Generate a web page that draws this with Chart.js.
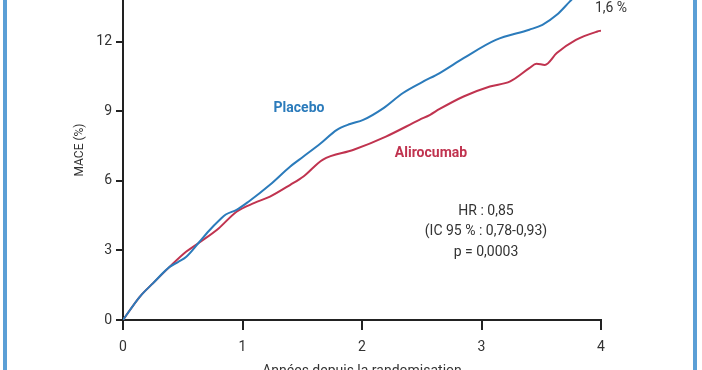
<!DOCTYPE html>
<html>
<head>
<meta charset="utf-8">
<script src="https://cdn.jsdelivr.net/npm/chart.js@4.4.1/dist/chart.umd.min.js"></script>
<style>
  html, body { margin: 0; padding: 0; background: #fff; }
  #wrap { position: relative; width: 702px; height: 370px; overflow: hidden; }
  .edge { position: absolute; top: 0; bottom: 0; width: 4px; background: #5b9fd6; }
</style>
</head>
<body>
<div id="wrap">
  <canvas id="chart" width="702" height="370"></canvas>
  <div class="edge" style="left:3px"></div>
  <div class="edge" style="left:693px"></div>
</div>
<script>
// years since randomisation / cumulative MACE (%)
const placeboYears = [0, 0.14, 0.25, 0.39, 0.46, 0.53, 0.63, 0.72, 0.81, 0.86, 0.95, 1.05, 1.23, 1.40, 1.51, 1.65, 1.79, 1.90, 2.01, 2.18, 2.34, 2.50, 2.65, 2.85, 3.12, 3.40, 3.51, 3.63, 3.74, 3.85, 4.0]
const placeboMace  = [0, 1.0, 1.58, 2.29, 2.5, 2.73, 3.31, 3.85, 4.32, 4.55, 4.75, 5.1, 5.83, 6.62, 7.05, 7.6, 8.2, 8.45, 8.63, 9.14, 9.78, 10.25, 10.65, 11.29, 12.08, 12.52, 12.73, 13.16, 13.74, 14.3, 14.6]

const aliroYears = [0, 0.14, 0.25, 0.39, 0.53, 0.63, 0.80, 0.95, 1.10, 1.23, 1.40, 1.51, 1.67, 1.93, 2.20, 2.48, 2.57, 2.65, 2.85, 3.07, 3.24, 3.40, 3.46, 3.53, 3.63, 3.79, 3.97, 4.0]
const aliroMace  = [0, 1.0, 1.58, 2.29, 2.95, 3.31, 3.95, 4.67, 5.05, 5.32, 5.83, 6.19, 6.91, 7.34, 7.91, 8.63, 8.85, 9.1, 9.64, 10.07, 10.29, 10.86, 11.05, 11.0, 11.51, 12.08, 12.44, 12.48]

const yearTicks = [0, 1, 2, 3, 4]
const maceTicks = [0, 3, 6, 9, 12]

const seriesNames = ['Placebo', 'Alirocumab']
const statsText = ['HR : 0,85', '(IC 95 % : 0,78-0,93)', 'p = 0,0003']
const diffText = '1,6 %'
const xTitle = 'Années depuis la randomisation'
const yTitle = 'MACE (%)'

const blue = '#2b7bbb'
const red = '#c0334f'
const ink = '#333'
const axisInk = '#222'

const toPoints = (xs, ys) => xs.map((x, i) => ({ x: x, y: ys[i] }))

// labels and axis titles placed like in the figure
const textPlugin = {
  id: 'texts',
  afterDraw(chart) {
    const ctx = chart.ctx
    ctx.save()
    ctx.textAlign = 'center'
    ctx.textBaseline = 'middle'

    ctx.font = 'bold 14px Roboto'
    ctx.fillStyle = blue
    ctx.fillText(seriesNames[0], 299, 108)
    ctx.fillStyle = red
    ctx.fillText(seriesNames[1], 431, 153)

    ctx.font = '14px Roboto'
    ctx.fillStyle = ink
    ctx.fillText(statsText[0], 486, 211)
    ctx.fillText(statsText[1], 486, 231)
    ctx.fillText(statsText[2], 486, 252)
    ctx.fillText(diffText, 611, 8)

    ctx.fillText(xTitle, 362, 371)

    ctx.translate(80, 150)
    ctx.rotate(-Math.PI / 2)
    ctx.font = '12px Roboto'
    ctx.fillText(yTitle, 0, 0)
    ctx.restore()
  }
}

new Chart(document.getElementById('chart'), {
  type: 'line',
  data: {
    datasets: [
      {
        label: seriesNames[0],
        data: toPoints(placeboYears, placeboMace),
        borderColor: blue,
        borderWidth: 2,
        pointRadius: 0,
        cubicInterpolationMode: 'monotone'
      },
      {
        label: seriesNames[1],
        data: toPoints(aliroYears, aliroMace),
        borderColor: red,
        borderWidth: 2,
        pointRadius: 0,
        cubicInterpolationMode: 'monotone'
      }
    ]
  },
  options: {
    responsive: false,
    animation: false,
    layout: { padding: { left: 0, right: 101, top: 0, bottom: 0 } },
    plugins: {
      legend: { display: false },
      tooltip: { enabled: false }
    },
    scales: {
      x: {
        type: 'linear',
        min: 0,
        max: 4,
        afterBuildTicks: s => { s.ticks = yearTicks.map(v => ({ value: v })) },
        afterFit: s => { s.height = 50; s.paddingLeft = 0; s.paddingRight = 0 },
        ticks: { color: ink, font: { family: 'Roboto', size: 14 }, padding: 9, maxRotation: 0 },
        grid: { drawOnChartArea: false, tickLength: 10, color: axisInk, lineWidth: 2 },
        border: { color: axisInk, width: 2 }
      },
      y: {
        min: 0,
        max: 13.8,
        afterBuildTicks: s => { s.ticks = maceTicks.map(v => ({ value: v })) },
        afterFit: s => { s.width = 123; s.paddingTop = 0; s.paddingBottom = 0 },
        ticks: { color: ink, font: { family: 'Roboto', size: 14 }, padding: 4 },
        grid: { drawOnChartArea: false, tickLength: 7, color: axisInk, lineWidth: 2 },
        border: { color: axisInk, width: 2 }
      }
    }
  },
  plugins: [textPlugin]
})
</script>
</body>
</html>
